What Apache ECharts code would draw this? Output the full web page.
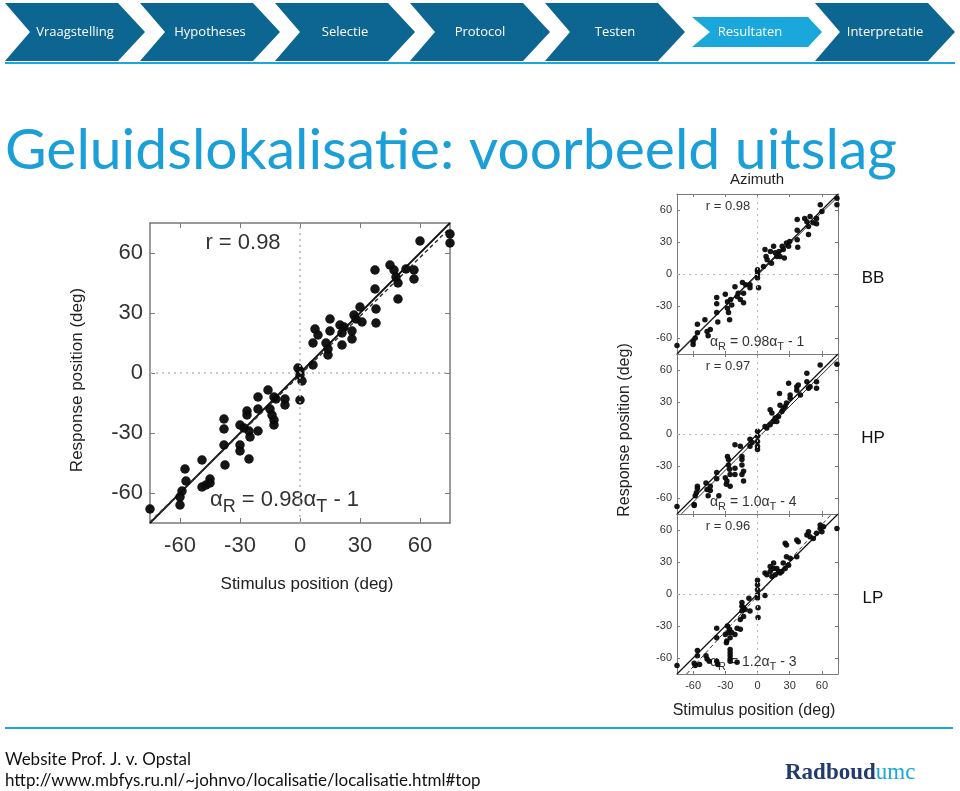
<!DOCTYPE html>
<html><head><meta charset="utf-8">
<script src="https://cdn.jsdelivr.net/npm/echarts@6/dist/echarts.min.js"></script>
<style>html,body{margin:0;padding:0;background:#fff}#c{width:960px;height:791px}</style>
</head><body><div id="c"></div>
<script>
// ---- data ----
const steps = ['Vraagstelling','Hypotheses','Selectie','Protocol','Testen','Resultaten','Interpretatie'];
const activeStep = 5;
const tickValues = [-60, -30, 0, 30, 60];
const axisRange = [-75, 75];
const mainPoints = [
 [-75,-68],[-60,-66],[-60,-62],[-59,-59],[-57.5,-48],[-57,-54],
 [-49,-43.5],[-49,-57],[-47,-56],[-45,-53],[-45,-55],
 [-38,-23],[-38,-28],[-38,-36],[-37.5,-46],
 [-30,-36],[-30,-39],[-30,-26],[-28,-27.5],[-26.5,-19],[-26.5,-21],[-25.5,-29],[-25.5,-43],[-25,-32],
 [-21,-12],[-21,-18],[-21,-29],
 [-16,-8.5],[-15,-18],[-14,-21],[-13,-23.5],[-13,-26],
 [-13,-12],[-12,-13],[-7.5,-13],[-7.5,-16],
 [0,-13.5],[-1,2.5],[0,-1],[1,-4],[0,1],
 [6.5,4],[6.5,15],[7.5,22],[9,19],
 [13,15],[14,12],[14,9],[15,27],[15,21],
 [20,24],[21,20],[21,14],[22,23],[26,21],[26,17],[27,29],[28,27],[30,33],[31,25.5],
 [37.5,51.5],[37.5,42],[38,32],[38,25],
 [45,54],[47,51.5],[48,48],[49,45],[49,37],[53,52],[57,51.5],[57,47],
 [60,66],[75,69.5],[75,65]
];
const bbPoints = [
 [-75,-67],[-60,-63],[-60,-66],[-58,-60],[-56,-47],[-56,-55],
 [-49,-43],[-47,-54],[-46,-58],[-44,-52],
 [-38,-22],[-38,-28],[-38,-36],[-37,-45],
 [-30,-19],[-28,-26],[-28,-32],[-27,-36],[-26,-43],[-25,-24],[-24,-29],
 [-21,-12],[-19,-21],[-18,-18],[-16,-24],[-14,-8],[-13,-18],[-13,-27],[-11,-10],
 [-7,-10],[-7,-13],
 [0,2.5],[0,-0.6],[0,-3.7],[0,4],[1,-13],[5.6,7],
 [7,23],[8,16.5],[9,13.4],[12,21],[13,10],[15,26],[16.5,20],[18,16.5],
 [20,21],[21,16.5],[23,26],[24,23],[25,15],[27,29],[29,26],[30,30.5],
 [37,32],[37,41],[37,51],[37.5,25],
 [44,52],[46,49],[47.5,44.5],[47.5,37],[49,54],[52,48],[55,52],[55,47],
 [58.5,65],[60,58.6],[74,71],[74,65]
];
const hpPoints = [
 [-75,-68],[-59,-66],[-59,-67],[-58,-58],[-56,-51],[-56,-49],[-57,-55],
 [-48,-46],[-47,-52],[-46,-58],[-44,-49],[-44,-53],
 [-38,-36],[-38,-42],[-36,-58],
 [-30,-41],[-29,-47],[-28.5,-44],[-28,-21],[-27,-24],[-27,-29],[-26,-33],[-25.5,-38],[-25.5,-49],[-21,-32],[-21,-38],
 [-21,-10],[-16,-11.5],[-14.5,-21],[-14.5,-24],[-14.5,-29],[-13,-44],[-13,-35],[-14.5,-38],
 [-7,-5],[-7,-11.5],[-5,-8],
 [0,2.5],[0,-2],[0,-7],[0,-11.5],[0,-14.6],
 [7,7],[8.7,5.6],[11.8,8.7],[11.8,22.7],[13.4,19.6],[15,11.8],[16.5,15],[18,11.8],[19.6,16.5],[20.5,38],
 [21,27],[22.7,21],[24,24],[25.8,25.8],[27,29],[29,47.5],[30.4,33.5],[30.4,36.6],[36.6,41],[36.6,44.4],
 [38,46],[40,36.6],[46,49],[46,57],[47.5,43],[49,44.4],[55,49],[55,43],[58.4,64.6],[74,65.5]
];
const lpPoints = [
 [-75,-67],[-59,-65],[-58,-67],[-56,-53],[-56,-58],[-54,-66],
 [-48,-58],[-47,-61],[-45,-63],
 [-38,-32],[-38,-41],[-38,-63],[-37,-66],
 [-30,-38],[-29,-45.6],[-28.6,-44],[-28,-30],[-27,-36],[-26,-33],[-25.5,-41],[-25.5,-52],[-25.5,-55],
 [-25.5,-58],[-25.5,-61],[-25.5,-63],[-24,-36],[-21,-38],[-19,-64],
 [-19,-32],[-16,-33],
 [-16,-24],[-14.5,-16],[-14.5,-11.5],[-14.5,-8],[-13,-21],[-13,-13],[-11.5,-14.6],
 [-8,-4],[-7,-16],
 [0,13],[0,8.7],[0,4],[0,-0.6],[0,-3.7],[0.5,-13],[0.5,-22],
 [7,-1.5],[7,19.6],[8.7,18],[11.8,25.8],[11.8,21],[13.4,16.5],[15,29],[15,24],[16.5,18],[18,24],
 [19.6,21],[21,19.6],[22.7,21],[24,29],[25.8,47.5],[25.8,24],[27,46],[27,35],[29,27],[30.4,33.5],
 [36.6,50.6],[36.6,35],[38,49],[46,55.3],[47.5,58.4],[49,53.7],[52,52],[55,57],[58.4,64.6],
 [58.4,61.5],[60,58.4],[61.5,63],[74,61.5]
];
const identityLine = [[-75,-75],[75,75]];
const regressionLines = {
  main: [[-75,-74.5],[75,72.5]],
  bb:   [[-75,-74.5],[75,72.5]],
  hp:   [[-71,-75],[75,71]],
  lp:   [[-66,-75],[69,75]]
};
const rTexts = {main:'r = 0.98', bb:'r = 0.98', hp:'r = 0.97', lp:'r = 0.96'};
const fitTexts = {main:['0.98','1'], bb:['0.98','1'], hp:['1.0','4'], lp:['1.2','3']};
const panelLabels = ['BB','HP','LP'];

// ---- layout ----
const panels = [
  {key:'main', grid:{left:150, top:223, width:300, height:300}, pts:mainPoints, sym:9.5, fs:22, showX:true, dashReg:true},
  {key:'bb', grid:{left:677, top:194, width:161, height:160}, pts:bbPoints, sym:5.5, fs:11, showX:false, dashReg:false},
  {key:'hp', grid:{left:677, top:354, width:161, height:160}, pts:hpPoints, sym:5.5, fs:11, showX:false, dashReg:false},
  {key:'lp', grid:{left:677, top:514, width:161, height:160}, pts:lpPoints, sym:5.5, fs:11, showX:true, dashReg:true}
];
const frameColor = '#7a7a7a';
const grids = [], xAxes = [], yAxes = [], series = [];
panels.forEach((p, g) => {
  grids.push(p.grid);
  const big = p.key === 'main';
  const tickLen = big ? 5 : 3;
  const common = (pos, lbl) => ({
    type:'value', gridIndex:g, min:axisRange[0], max:axisRange[1], position:pos,
    axisLine:{show:true, onZero:false, lineStyle:{color:frameColor, width:big?1.5:1}},
    axisTick:{show:true, inside:true, length:tickLen, customValues:tickValues, lineStyle:{color:frameColor}},
    axisLabel:{show:lbl, customValues:tickValues, fontSize:p.fs, color:'#333', fontFamily:'Liberation Sans',
               margin: (pos==='bottom') ? (big?12:6) : (big?7:5)},
    splitLine:{show:false}
  });
  xAxes.push(common('bottom', p.showX));
  xAxes.push(common('top', false));
  yAxes.push(common('left', true));
  yAxes.push(common('right', false));
  const xi = 2*g, yi = 2*g;
  series.push({
    type:'line', xAxisIndex:xi, yAxisIndex:yi, data:identityLine, symbol:'none', silent:true,
    lineStyle:{color:'#111', width:big?1.8:1.2}, z:2,
    markLine:{silent:true, symbol:'none', label:{show:false},
      lineStyle:{color:'#b8b8b8', type:[2,4], width:big?1.5:1},
      data:[{xAxis:0},{yAxis:0}]}
  });
  series.push({
    type:'line', xAxisIndex:xi, yAxisIndex:yi, data:regressionLines[p.key], symbol:'none', silent:true,
    lineStyle:{color:'#333', width:big?1.5:1, type:p.dashReg?[4,3]:'solid'}, z:2
  });
  series.push({
    type:'scatter', xAxisIndex:xi, yAxisIndex:yi, data:p.pts, symbolSize:p.sym,
    itemStyle:{color:'#0a0a0a', opacity:0.95}, z:3
  });
});

// ---- graphics ----
const dark = '#0d6592', light = '#1aa8dc';
const graphic = [];
steps.forEach((s, i) => {
  const x0 = 5 + 135*i;
  let pts;
  if (i === activeStep) pts = [[x0+12,17],[x0+128,17],[x0+142,32],[x0+128,47],[x0+12,47],[x0+30,32]];
  else pts = [[x0,3],[x0+113,3],[x0+140,32],[x0+113,61],[x0,61],[x0+25,32]];
  graphic.push({type:'polygon', shape:{points:pts}, style:{fill: i===activeStep?light:dark}, silent:true});
  graphic.push({type:'text', x:x0+70, y:32, style:{text:s, fill:'#fff', font:'13px "Open Sans"', align:'center', verticalAlign:'middle'}, silent:true});
});
graphic.push({type:'line', shape:{x1:5,y1:63,x2:955,y2:63}, style:{stroke:light, lineWidth:2}, silent:true});
graphic.push({type:'text', x:5, y:151, style:{text:'Geluidslokalisatie: voorbeeld uitslag', fill:'#1a9fd8', font:'57px Lato', align:'left', verticalAlign:'middle'}, silent:true});
// footer
graphic.push({type:'line', shape:{x1:5,y1:728,x2:953,y2:728}, style:{stroke:light, lineWidth:2}, silent:true});
graphic.push({type:'text', x:5, y:760, style:{text:'Website Prof. J. v. Opstal', fill:'#111', font:'17px Lato', verticalAlign:'middle'}, silent:true});
graphic.push({type:'text', x:5, y:781, style:{text:'http://www.mbfys.ru.nl/~johnvo/localisatie/localisatie.html#top', fill:'#111', font:'17px Lato', verticalAlign:'middle'}, silent:true});
graphic.push({type:'text', x:785, y:773, style:{text:'{a|Radboud}{b|umc}', verticalAlign:'middle',
  rich:{a:{fill:'#213a70', font:'bold 23px "Liberation Serif"'}, b:{fill:light, font:'23px "Liberation Serif"'}}}, silent:true});

// plot texts
const af = 'Liberation Sans';
function fitRich(k, size, sub) {
  const t = fitTexts[k];
  return {text:'{n|\u03b1}{s|R}{n| = ' + t[0] + '\u03b1}{s|T}{n| - ' + t[1] + '}',
    rich:{n:{fill:'#333', fontSize:size, fontFamily:af}, s:{fill:'#333', fontSize:sub, fontFamily:af, padding:[Math.round(size*0.7),0,0,0]}}};
}
graphic.push({type:'text', x:243, y:243, style:{text:rTexts.main, fill:'#333', font:'22px '+af, align:'center', verticalAlign:'middle'}, silent:true});
graphic.push({type:'text', x:210, y:500, style:Object.assign(fitRich('main',22,18), {verticalAlign:'middle'}), silent:true});
graphic.push({type:'text', x:77, y:380, rotation:Math.PI/2, style:{text:'Response position (deg)', fill:'#222', font:'17px '+af, align:'center', verticalAlign:'middle'}, silent:true});
graphic.push({type:'text', x:307, y:584, style:{text:'Stimulus position (deg)', fill:'#222', font:'17px '+af, align:'center', verticalAlign:'middle'}, silent:true});

graphic.push({type:'text', x:757, y:180, style:{text:'Azimuth', fill:'#222', font:'15px '+af, align:'center', verticalAlign:'middle'}, silent:true});
['bb','hp','lp'].forEach((k, i) => {
  const top = panels[i+1].grid.top;
  graphic.push({type:'text', x:728, y:top+12, style:{text:rTexts[k], fill:'#333', font:'13px '+af, align:'center', verticalAlign:'middle'}, silent:true});
  graphic.push({type:'text', x:710, y:top+148, style:Object.assign(fitRich(k,14,11), {verticalAlign:'middle'}), silent:true});
  graphic.push({type:'text', x:873, y:top+84, style:{text:panelLabels[i], fill:'#111', font:'17px '+af, align:'center', verticalAlign:'middle'}, silent:true});
});
graphic.push({type:'text', x:625, y:430, rotation:Math.PI/2, style:{text:'Response position (deg)', fill:'#222', font:'16px '+af, align:'center', verticalAlign:'middle'}, silent:true});
graphic.push({type:'text', x:754, y:711, style:{text:'Stimulus position (deg)', fill:'#222', font:'16px '+af, align:'center', verticalAlign:'middle'}, silent:true});

const chart = echarts.init(document.getElementById('c'), null, {renderer:'canvas'});
chart.setOption({
  backgroundColor:'#fff', animation:false,
  grid:grids, xAxis:xAxes, yAxis:yAxes, series:series, graphic:{elements:graphic}
});
</script></body></html>
